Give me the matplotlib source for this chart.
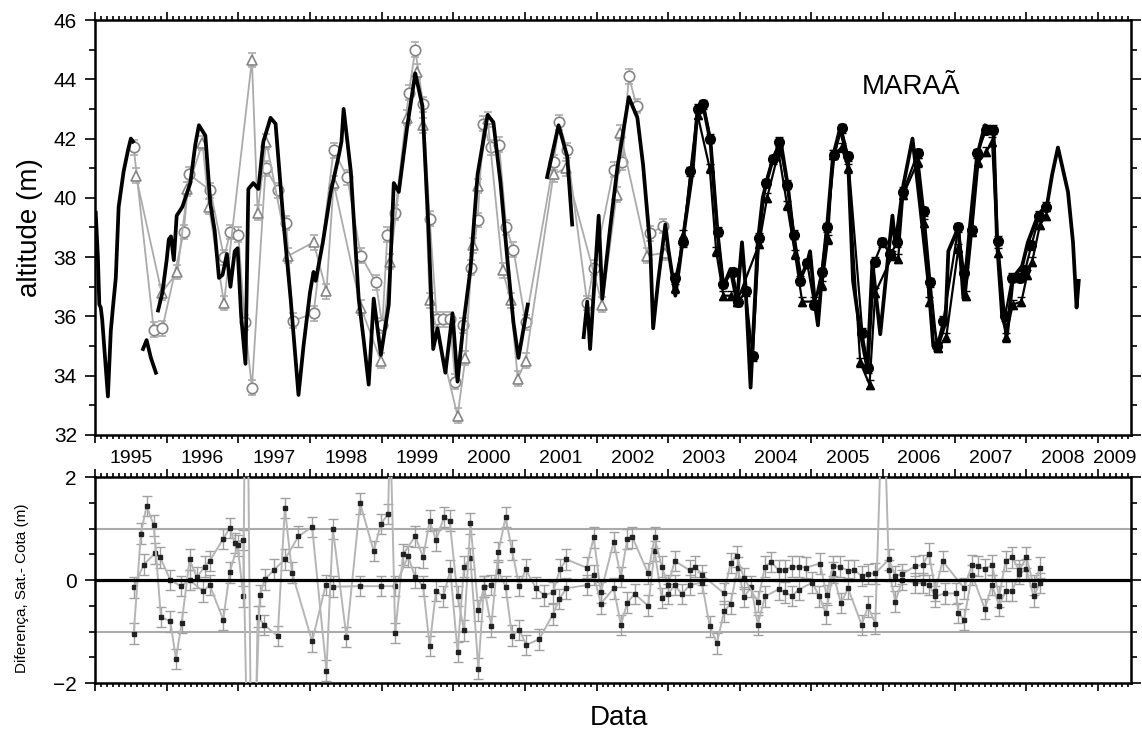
import numpy as np
import matplotlib
matplotlib.use("Agg")
import matplotlib.pyplot as plt
from matplotlib.ticker import MultipleLocator

plt.rcParams['font.family'] = ['Liberation Sans', 'DejaVu Sans']

nan = np.nan

# ---- data ----
# gauge (cota) series, decimal year / altitude (m); nan = gap in record
gauge_t = [1995.01, 1995.04, 1995.06, 1995.08, 1995.10, 1995.14, 1995.18, 1995.22, 1995.25, 1995.29,
           1995.33, 1995.40, 1995.46, 1995.50, 1995.53, nan,
           1995.67, 1995.72, 1995.78, 1995.85, nan,
           1995.88, 1995.94, 1996.00, 1996.03, 1996.06, 1996.10, 1996.14, 1996.22, 1996.33, 1996.40,
           1996.45, 1996.54, 1996.61, 1996.67, 1996.73, 1996.78, 1996.84, 1996.89, 1996.95, 1996.99,
           1997.04, 1997.10, 1997.14, 1997.21, 1997.28, 1997.35, 1997.45, 1997.52, 1997.63, 1997.73,
           1997.84, 1997.91, 1998.00, 1998.05, 1998.08, 1998.18, 1998.29, 1998.40, 1998.44, 1998.47,
           1998.57, 1998.68, 1998.75, 1998.82, 1998.89, 1998.99, 1999.10, 1999.17, 1999.24, 1999.36,
           1999.47, 1999.57, 1999.65, 1999.72, 1999.78, 1999.89, 1999.99, 2000.06, 2000.14, 2000.24,
           2000.34, 2000.48, 2000.56, 2000.66, 2000.76, 2000.84, 2000.91, 2001.04, nan,
           2001.31, 2001.47, 2001.59, 2001.66, nan,
           2001.82, 2001.87, 2001.91, 2002.03, 2002.08, 2002.19, 2002.29, 2002.45, 2002.57, 2002.65,
           2002.75, 2002.79, 2002.86, 2002.96, 2003.00, 2003.10, 2003.21, 2003.34, 2003.41, 2003.49,
           2003.59, 2003.69, 2003.77, 2003.87, 2003.96, 2004.03, 2004.08, 2004.15, 2004.25, 2004.32,
           2004.39, 2004.46, 2004.57, 2004.67, 2004.75, 2004.85, 2004.94, 2004.98, 2005.05, 2005.09,
           2005.15, 2005.22, 2005.30, 2005.40, 2005.51, 2005.58, 2005.68, 2005.78, 2005.85, 2005.96,
           2006.06, 2006.13, 2006.17, 2006.28, 2006.41, 2006.52, 2006.63, 2006.70, 2006.75, 2006.87,
           2006.91, 2007.05, 2007.12, 2007.21, 2007.31, 2007.42, 2007.54, 2007.59, 2007.66, 2007.73,
           2007.81, 2007.94, 2008.02, 2008.16, 2008.29, 2008.36, 2008.44, 2008.58, 2008.65, 2008.70,
           2008.73]
gauge_h = [39.5, 38.0, 36.4, 36.3, 35.9, 34.6, 33.3, 35.5, 36.3, 37.3,
           39.7, 40.9, 41.6, 42.0, 41.9, nan,
           34.9, 35.2, 34.6, 34.1, nan,
           36.2, 36.8, 37.9, 38.6, 38.7, 37.9, 39.4, 39.7, 40.5, 41.8,
           42.45, 42.1, 39.8, 38.9, 37.3, 37.4, 38.1, 37.0, 38.2, 38.3,
           36.0, 34.4, 40.3, 40.5, 40.3, 41.9, 42.7, 42.5, 39.2, 36.6,
           33.35, 35.0, 36.8, 37.5, 37.2, 38.5, 40.2, 41.4, 41.9, 43.0,
           40.9, 36.6, 35.2, 33.7, 36.6, 34.7, 36.4, 40.5, 40.2, 42.45,
           44.2, 43.1, 39.2, 34.9, 35.6, 34.1, 36.1, 33.8, 35.7, 37.6,
           40.8, 42.8, 42.55, 40.5, 37.8, 35.8, 34.6, 36.4, nan,
           40.7, 42.45, 41.4, 39.1, nan,
           35.3, 36.5, 34.9, 39.4, 36.6, 39.0, 41.0, 43.4, 42.7, 41.1,
           38.3, 35.6, 37.2, 39.1, 38.3, 36.7, 38.7, 40.9, 43.0, 43.1,
           41.9, 38.8, 37.0, 37.6, 36.5, 38.5, 37.0, 33.6, 38.5, 40.0,
           40.7, 41.3, 41.9, 40.4, 38.7, 37.3, 37.8, 38.2, 36.4, 35.7,
           37.5, 39.1, 41.4, 42.35, 41.3, 37.2, 35.5, 34.25, 37.8, 35.4,
           37.8, 39.4, 38.4, 40.4, 42.0, 39.65, 37.2, 35.0, 34.9, 35.8,
           38.2, 39.0, 36.6, 39.0, 41.4, 42.45, 42.3, 38.5, 36.05, 35.4,
           37.3, 37.7, 38.5, 39.4, 39.8, 40.8, 41.7, 40.2, 38.5, 36.3,
           37.2]

# satellite series, circles (open grey up to 2002, black from 2003)
circ_old_t = [1995.54, 1995.82, 1995.94, 1996.24, 1996.31, 1996.61, 1996.80, 1996.89, 1997.00, 1997.09,
              1997.19, 1997.38, 1997.56, 1997.67, 1997.76, 1998.05, 1998.33, 1998.52, 1998.71, 1998.92,
              1999.01, 1999.08, 1999.19, 1999.38, 1999.47, 1999.58, 1999.67, 1999.77, 1999.85, 1999.95,
              2000.03, 2000.14, 2000.25, 2000.34, 2000.42, 2000.52, 2000.64, 2000.74, 2000.84, 2001.01,
              2001.40, 2001.48, 2001.59, 2001.87, 2001.96, 2002.24, 2002.36, 2002.45, 2002.56, 2002.75,
              2002.93]
circ_old_h = [41.7, 35.55, 35.6, 38.85, 40.8, 40.25, 38.0, 38.85, 38.75, 35.8,
              33.6, 41.0, 40.25, 39.15, 35.85, 36.1, 41.6, 40.7, 38.05, 37.15,
              35.7, 38.75, 39.5, 43.55, 45.0, 43.15, 39.3, 35.9, 35.9, 35.9,
              33.8, 35.7, 37.65, 39.25, 42.5, 41.7, 41.8, 39.0, 38.25, 35.8,
              41.2, 42.55, 41.6, 36.45, 37.65, 40.95, 41.2, 44.1, 43.1, 38.8,
              39.05]
circ_new_t = [2003.10, 2003.21, 2003.31, 2003.41, 2003.49, 2003.59, 2003.69, 2003.77, 2003.90, 2003.98,
              2004.08, 2004.18, 2004.27, 2004.36, 2004.46, 2004.55, 2004.66, 2004.76, 2004.84, 2004.94,
              2005.04, 2005.14, 2005.22, 2005.32, 2005.42, 2005.51, 2005.71, 2005.79, 2005.88, 2005.99,
              2006.10, 2006.20, 2006.28, 2006.48, 2006.57, 2006.66, 2006.75, 2006.84, 2007.05, 2007.13,
              2007.24, 2007.31, 2007.44, 2007.54, 2007.60, 2007.70, 2007.80, 2007.91, 2007.98, 2008.07,
              2008.18, 2008.28]
circ_new_h = [37.3, 38.5, 40.9, 43.0, 43.15, 42.0, 38.85, 37.1, 37.5, 36.5,
              36.85, 34.65, 38.65, 40.5, 41.3, 41.9, 40.45, 38.75, 37.2, 37.8,
              36.4, 37.5, 39.0, 41.45, 42.35, 41.4, 35.45, 34.25, 37.85, 38.5,
              38.1, 38.5, 40.2, 41.5, 39.55, 37.15, 35.0, 35.85, 39.0, 37.45,
              38.9, 41.5, 42.3, 42.3, 38.55, 36.0, 37.3, 37.3, 37.55, 38.4,
              39.4, 39.7]

# satellite series, triangles
tri_old_t = [1995.57, 1995.93, 1996.15, 1996.29, 1996.50, 1996.59, 1996.80, 1997.19, 1997.27, 1997.39,
             1997.70, 1998.05, 1998.23, 1998.33, 1998.71, 1998.99, 1999.12, 1999.36, 1999.49, 1999.58,
             1999.67, 2000.06, 2000.17, 2000.27, 2000.34, 2000.48, 2000.69, 2000.80, 2000.90, 2001.01,
             2001.40, 2001.57, 2002.08, 2002.28, 2002.33, 2002.71, 2002.95]
tri_old_h = [40.75, 36.8, 37.5, 40.3, 41.85, 39.7, 36.45, 44.65, 39.5, 41.9,
             38.05, 38.5, 36.85, 40.5, 36.3, 34.5, 37.85, 42.7, 44.25, 42.45,
             36.55, 32.65, 34.6, 38.4, 40.4, 42.65, 37.55, 36.55, 33.9, 34.5,
             40.8, 41.0, 36.4, 40.1, 42.2, 38.05, 38.15]
tri_new_t = [2003.10, 2003.21, 2003.41, 2003.58, 2003.67, 2003.77, 2003.87, 2003.96, 2004.27, 2004.38,
             2004.54, 2004.66, 2004.77, 2004.87, 2005.03, 2005.15, 2005.23, 2005.30, 2005.42, 2005.51,
             2005.68, 2005.81, 2005.89, 2006.13, 2006.21, 2006.28, 2006.48, 2006.57, 2006.64, 2006.77,
             2006.88, 2007.05, 2007.15, 2007.24, 2007.33, 2007.44, 2007.52, 2007.60, 2007.71, 2007.81,
             2007.93, 2008.01, 2008.08, 2008.19, 2008.28]
tri_new_h = [36.95, 38.75, 42.8, 41.0, 38.2, 36.7, 36.7, 36.5, 38.45, 40.0,
             41.55, 39.75, 38.1, 36.5, 36.5, 37.05, 38.6, 41.45, 41.7, 41.0,
             34.45, 33.7, 36.8, 38.05, 37.95, 40.1, 41.2, 39.15, 36.5, 34.95,
             35.3, 38.3, 36.7, 38.85, 41.2, 41.55, 41.9, 38.15, 35.3, 36.4,
             36.5, 37.4, 37.85, 39.1, 39.4]

# differences satellite - gauge (m), two series
diff_a = [(1995.54, -0.14), (1995.68, 0.30), (1995.84, 0.52), (1995.91, 0.44), (1996.05, 0.00),
          (1996.20, -0.12), (1996.32, 0.00), (1996.51, -0.22), (1996.60, -0.10), (1996.79, -0.77),
          (1996.88, 0.15), (1996.99, 0.67), (1997.07, -0.32), (1997.11, 6.5), (1997.20, -6.5),
          (1997.27, -0.71), (1997.36, -0.87), (1997.55, -1.09), (1997.65, 1.40), (1997.75, 0.14),
          (1998.03, -1.19), (1998.22, -0.10), (1998.32, -0.13), (1998.70, -0.12), (1998.99, -0.12),
          (1999.19, -0.12), (1999.37, 0.46), (1999.47, 0.05), (1999.58, -0.12), (1999.67, -1.28),
          (1999.76, -0.21), (1999.86, -0.32), (1999.96, 0.19), (2000.06, -1.40), (2000.15, 0.26),
          (2000.24, 0.42), (2000.35, -1.72), (2000.43, -0.13), (2000.53, -0.10), (2000.63, 0.18),
          (2000.73, -0.13), (2000.82, -1.08), (2000.92, -0.97), (2001.02, -1.26), (2001.20, -1.15),
          (2001.39, -0.67), (2001.48, -0.37), (2001.58, -0.16), (2001.86, -0.10), (2001.96, 0.10),
          (2002.06, -0.46), (2002.24, -0.16), (2002.34, -0.87), (2002.43, -0.44), (2002.53, -0.27),
          (2002.72, -0.50), (2002.81, 0.56), (2002.91, -0.35), (2003.00, -0.27), (2003.09, -0.10),
          (2003.19, -0.27), (2003.30, -0.10), (2003.47, -0.05), (2003.58, -0.90), (2003.68, -1.23),
          (2003.78, -0.61), (2003.87, -0.46), (2003.97, 0.24), (2004.06, -0.33), (2004.16, -0.13),
          (2004.25, -0.87), (2004.35, -0.32), (2004.54, -0.18), (2004.63, -0.24), (2004.73, -0.31),
          (2004.82, -0.19), (2005.01, -0.05), (2005.11, -0.32), (2005.20, -0.65), (2005.30, 0.14),
          (2005.41, -0.45), (2005.51, -0.16), (2005.70, -0.87), (2005.79, -0.51), (2005.89, -0.85),
          (2006.00, 4.0), (2006.08, 0.19), (2006.17, -0.42), (2006.27, 0.00), (2006.45, -0.06),
          (2006.55, -0.06), (2006.64, -0.10), (2006.73, -0.32), (2006.86, -0.26), (2007.02, -0.26),
          (2007.05, -0.64), (2007.13, -0.77), (2007.24, 0.10), (2007.42, -0.56), (2007.52, -0.10),
          (2007.62, -0.50), (2007.71, -0.21), (2007.80, -0.21), (2007.90, 0.12), (2008.00, 0.21),
          (2008.10, -0.32), (2008.19, -0.06)]
diff_b = [(1995.54, -1.04), (1995.64, 0.90), (1995.72, 1.44), (1995.82, 1.06), (1995.92, -0.72),
          (1996.05, -0.80), (1996.13, -1.53), (1996.21, -0.83), (1996.32, 0.40), (1996.42, 0.05),
          (1996.53, 0.26), (1996.60, 0.37), (1996.79, 0.80), (1996.88, 1.01), (1996.95, 0.72),
          (1997.07, 0.78), (1997.16, -6.0), (1997.30, -0.30), (1997.37, 0.01), (1997.50, 0.20),
          (1997.65, 0.40), (1997.84, 0.85), (1998.03, 1.03), (1998.23, -1.76), (1998.32, 0.99),
          (1998.51, -1.11), (1998.70, 1.49), (1998.89, 0.56), (1998.99, 1.09), (1999.09, 1.28),
          (1999.12, 3.0), (1999.19, -1.03), (1999.30, 0.50), (1999.47, 0.85), (1999.58, 0.44),
          (1999.67, 1.15), (1999.76, 0.77), (1999.87, 1.22), (1999.95, 1.15), (2000.06, -0.31),
          (2000.15, -0.98), (2000.24, 1.10), (2000.35, -0.59), (2000.43, -0.13), (2000.53, -0.90),
          (2000.63, 0.54), (2000.73, 1.22), (2000.82, 0.58), (2000.92, -0.12), (2001.01, 0.21),
          (2001.15, -0.15), (2001.27, -0.30), (2001.39, -0.24), (2001.49, 0.21), (2001.58, 0.40),
          (2001.86, 0.24), (2001.96, 0.83), (2002.06, -0.24), (2002.24, 0.74), (2002.34, 0.06),
          (2002.43, 0.80), (2002.50, 0.83), (2002.72, 0.13), (2002.81, 0.83), (2002.91, 0.26),
          (2003.00, -0.10), (2003.09, 0.37), (2003.30, 0.19), (2003.38, 0.26), (2003.47, 0.10),
          (2003.78, -0.26), (2003.87, 0.33), (2003.96, 0.46), (2004.06, 0.03), (2004.25, -0.42),
          (2004.35, 0.26), (2004.44, 0.35), (2004.54, 0.19), (2004.63, 0.19), (2004.73, 0.26),
          (2004.82, 0.26), (2004.92, 0.24), (2005.12, 0.32), (2005.21, -0.29), (2005.30, 0.27),
          (2005.40, 0.26), (2005.51, 0.18), (2005.60, 0.19), (2005.70, 0.08), (2005.79, 0.12),
          (2005.89, 0.13), (2006.08, 0.40), (2006.17, 0.08), (2006.27, 0.12), (2006.45, 0.27),
          (2006.55, 0.29), (2006.64, 0.51), (2006.73, -0.21), (2006.83, 0.37), (2007.13, -0.16),
          (2007.24, 0.29), (2007.33, 0.27), (2007.42, 0.21), (2007.52, 0.29), (2007.62, -0.32),
          (2007.71, 0.37), (2007.80, 0.44), (2007.90, 0.19), (2008.00, 0.44), (2008.10, -0.10),
          (2008.19, 0.24)]

years = list(range(1995, 2010))
year_labels = [str(y) for y in years]
x_min, x_max = 1995.0, 2009.46

# ---- figure ----
GRAY = '#ababab'
MGRAY = '#858585'

fig = plt.figure(figsize=(11.42, 7.36), dpi=100)
ax1 = fig.add_axes([0.0832, 0.4090, 0.9072, 0.5638])
ax2 = fig.add_axes([0.0832, 0.0720, 0.9072, 0.2799])

# top panel
ax1.errorbar(circ_old_t, circ_old_h, yerr=0.25, color=GRAY, lw=1.3, marker='o', ms=7.5,
             mfc='white', mec=MGRAY, mew=1.2, ecolor=GRAY, elinewidth=1, capsize=3, zorder=2)
ax1.errorbar(tri_old_t, tri_old_h, yerr=0.25, color=GRAY, lw=1.3, marker='^', ms=7,
             mfc='white', mec=MGRAY, mew=1.2, ecolor=GRAY, elinewidth=1, capsize=3, zorder=2)
ax1.plot(gauge_t, gauge_h, color='black', lw=2.7, zorder=3)
ax1.errorbar(circ_new_t, circ_new_h, yerr=0.15, color='black', lw=1.6, marker='o', ms=7,
             mfc='black', mec='black', ecolor='black', elinewidth=1, capsize=3, zorder=4)
ax1.errorbar(tri_new_t, tri_new_h, yerr=0.15, color='black', lw=1.6, marker='^', ms=6,
             mfc='black', mec='black', ecolor='black', elinewidth=1, capsize=3, zorder=4)

ax1.text(0.788, 0.838, 'MARAÃ', transform=ax1.transAxes, fontsize=20,
         ha='center', va='center')

ax1.set_xlim(x_min, x_max)
ax1.set_ylim(32, 46)
ax1.yaxis.set_major_locator(MultipleLocator(2))
ax1.yaxis.set_minor_locator(MultipleLocator(1))

# bottom panel
ax2.axhline(1, color=GRAY, lw=1.5, zorder=1)
ax2.axhline(-1, color=GRAY, lw=1.5, zorder=1)
ax2.axhline(0, color='black', lw=2.3, zorder=5)
for series in (diff_a, diff_b):
    t, v = zip(*series)
    ax2.errorbar(t, v, yerr=0.2, color='#b5b5b5', lw=1.4, marker='s', ms=3,
                 mfc='#222222', mec='#222222', ecolor='#a0a0a0', elinewidth=1,
                 capsize=3.5, zorder=3)
ax2.set_xlim(x_min, x_max)
ax2.set_ylim(-2, 2)
ax2.set_yticks([-2, 0, 2])
ax2.yaxis.set_minor_locator(MultipleLocator(0.5))

for ax in (ax1, ax2):
    ax.xaxis.set_major_locator(MultipleLocator(1))
    ax.xaxis.set_minor_locator(MultipleLocator(1 / 12))
    ax.tick_params(axis='x', which='both', direction='out', top=True, bottom=True,
                   labelbottom=False, width=1.2)
    ax.tick_params(axis='x', which='major', length=6)
    ax.tick_params(axis='x', which='minor', length=3)
    ax.tick_params(axis='y', which='both', direction='out', left=True, right=True,
                   labelright=False, width=1.2, labelsize=15, pad=6)
    ax.tick_params(axis='y', which='major', length=7)
    ax.tick_params(axis='y', which='minor', length=4)
    for sp in ax.spines.values():
        sp.set_linewidth(1.8)

# year labels centred in each year (last one in the visible part)
label_pos = [y + 0.5 for y in years[:-1]] + [(years[-1] + x_max) / 2]
sec = ax1.secondary_xaxis('bottom')
sec.set_xticks(label_pos, labels=year_labels)
sec.tick_params(length=0, pad=11, labelsize=14)
sec.spines['bottom'].set_visible(False)

fig.text(30 / 1142, 1 - 228 / 736, 'altitude (m)', rotation=90, ha='center', va='center',
         fontsize=20)
fig.text(22 / 1142, 1 - 588 / 736, 'Diferença, Sat.- Cota (m)', rotation=90, ha='center',
         va='center', fontsize=11)
fig.text(619 / 1142, 1 - 718 / 736, 'Data', ha='center', va='center', fontsize=20)

fig.savefig('out.png', dpi=100)
